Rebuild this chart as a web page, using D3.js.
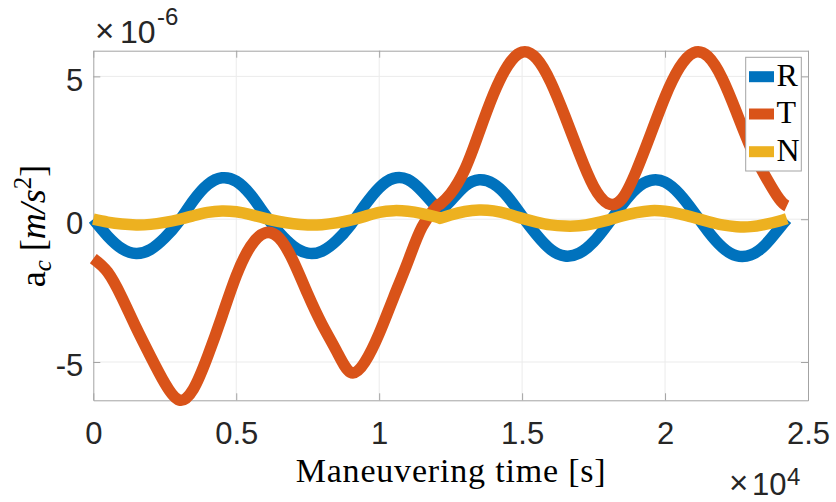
<!DOCTYPE html>
<html>
<head>
<meta charset="utf-8">
<script src="https://cdn.jsdelivr.net/npm/d3@7"></script>
<style>
  body { margin: 0; background: #fff; }
  svg { display: block; }
  .tick text { font-family: "Liberation Sans", Arial, sans-serif; font-size: 31px; fill: #262626; }
  .serif { font-family: "Liberation Serif", "Times New Roman", serif; fill: #000; }
  .sans { font-family: "Liberation Sans", Arial, sans-serif; fill: #262626; }
</style>
</head>
<body>
<div id="chart"></div>
<script>
// maneuvering time [s], split at the mid-point kink (12130 s)
var times = [0, 500, 1000, 1500, 2000, 2500, 3000, 3500, 4000, 4500, 5000, 5500, 6000,
  6500, 7000, 7500, 8000, 8500, 9000, 9500, 10000, 10500, 11000, 11500, 12000, 12130,
  12500, 13000, 13500, 14000, 14500, 15000, 15500, 16000, 16500, 17000, 17500, 18000,
  18500, 19000, 19500, 20000, 20500, 21000, 21500, 22000, 22500, 23000, 23500, 24000, 24260];
var kinkIndex = 25;

// control acceleration components, x1e-6 m/s^2
var radial = [0, -0.59, -1.03, -1.2, -1.06, -0.65, -0.07, 0.65, 1.21, 1.45, 1.33, 0.86, 0.17,
  -0.47, -0.95, -1.19, -1.12, -0.76, -0.2, 0.49, 1.1, 1.43, 1.39, 0.98, 0.42, 0.28,
  0.64, 1.16, 1.38, 1.24, 0.78, 0.11, -0.54, -1.06, -1.29, -1.19, -0.79, -0.17,
  0.51, 1.08, 1.36, 1.3, 0.89, 0.26, -0.42, -0.98, -1.28, -1.25, -0.9, -0.31, 0];
var along = [-1.38, -1.85, -2.74, -3.8, -4.8, -5.74, -6.33, -5.95, -4.8, -3.4, -1.98, -0.95, -0.48,
  -0.66, -1.48, -2.62, -3.68, -4.6, -5.36, -5.0, -4.0, -2.75, -1.5, -0.27, 0.43, 0.52,
  0.9, 1.75, 3.05, 4.38, 5.38, 5.85, 5.63, 4.8, 3.6, 2.3, 1.15, 0.55,
  0.72, 1.7, 2.98, 4.28, 5.3, 5.83, 5.7, 4.93, 3.74, 2.5, 1.52, 0.7, 0.46];
var normal = [0, -0.1, -0.17, -0.2, -0.18, -0.11, -0.01, 0.12, 0.24, 0.29, 0.26, 0.16, 0.03,
  -0.08, -0.16, -0.2, -0.19, -0.13, -0.03, 0.1, 0.24, 0.3, 0.28, 0.2, 0.08, 0.03,
  0.15, 0.27, 0.32, 0.29, 0.18, 0.03, -0.1, -0.2, -0.24, -0.23, -0.15, -0.03,
  0.11, 0.23, 0.3, 0.28, 0.19, 0.06, -0.08, -0.2, -0.26, -0.26, -0.18, -0.06, 0.02];

var seriesNames = ["R", "T", "N"];
var seriesValues = [radial, along, normal];
var seriesColors = ["#0072BD", "#D95319", "#EDB120"];

var xTicks = [0, 5000, 10000, 15000, 20000, 25000];
var xTickLabels = ["0", "0.5", "1", "1.5", "2", "2.5"];
var yTicks = [-5, 0, 5];
var yTickLabels = ["-5", "0", "5"];

drawChart();

function drawChart() {
  var width = 836, height = 502;
  var plotLeft = 93.3, plotRight = 808, plotTop = 50.7, plotBottom = 400.3;
  var axisColor = "#a3a3a3";

  var svg = d3.select("#chart")
    .append("svg")
    .attr("width", width)
    .attr("height", height);

  var x = d3.scaleLinear().domain([0, 25000]).range([plotLeft, plotRight]);
  var y = d3.scaleLinear().domain([-6.34, 5.9]).range([plotBottom, plotTop]);

  // grid
  var grid = svg.append("g").attr("class", "grid");
  grid.selectAll("line.vx")
    .data(xTicks.slice(1, -1))
    .enter().append("line")
    .attr("x1", function(d) { return x(d); })
    .attr("x2", function(d) { return x(d); })
    .attr("y1", plotTop).attr("y2", plotBottom)
    .attr("stroke", "#ebebeb").attr("stroke-width", 1);
  grid.selectAll("line.hy")
    .data(yTicks)
    .enter().append("line")
    .attr("y1", function(d) { return y(d); })
    .attr("y2", function(d) { return y(d); })
    .attr("x1", plotLeft).attr("x2", plotRight)
    .attr("stroke", "#ebebeb").attr("stroke-width", 1);

  // axes (ticks inside, box on)
  function styleAxis(g) {
    g.selectAll("path.domain").attr("stroke", axisColor).attr("stroke-width", 1);
    g.selectAll(".tick line").attr("stroke", axisColor).attr("stroke-width", 1);
  }

  svg.append("g")
    .attr("transform", "translate(0," + plotBottom + ")")
    .call(d3.axisBottom(x).tickValues(xTicks)
      .tickFormat(function(d, i) { return xTickLabels[i]; })
      .tickSize(-7).tickSizeOuter(0).tickPadding(22))
    .call(styleAxis)
    .selectAll(".tick text").attr("font-family", null).attr("font-size", null);

  svg.append("g")
    .attr("transform", "translate(0," + plotTop + ")")
    .call(d3.axisTop(x).tickValues(xTicks).tickFormat("").tickSize(-7).tickSizeOuter(0))
    .call(styleAxis);

  svg.append("g")
    .attr("transform", "translate(" + plotLeft + ",0)")
    .call(d3.axisLeft(y).tickValues(yTicks)
      .tickFormat(function(d, i) { return yTickLabels[i]; })
      .tickSize(-7).tickSizeOuter(0).tickPadding(10))
    .call(styleAxis)
    .selectAll(".tick text").attr("dy", "0.45em").attr("font-family", null).attr("font-size", null);

  svg.append("g")
    .attr("transform", "translate(" + plotRight + ",0)")
    .call(d3.axisRight(y).tickValues(yTicks).tickFormat("").tickSize(-7).tickSizeOuter(0))
    .call(styleAxis);

  // series lines, each half a smooth spline, joined at the kink so the corner stays sharp
  var line = d3.line()
    .x(function(d) { return x(d.t); })
    .y(function(d) { return y(d.v); })
    .curve(d3.curveNatural);

  seriesValues.forEach(function(vals, k) {
    var pts = times.map(function(t, i) { return {t: t, v: vals[i]}; });
    var first = line(pts.slice(0, kinkIndex + 1));
    var second = line(pts.slice(kinkIndex)).replace(/^M[^A-Za-z]*/, "");
    svg.append("path")
      .attr("d", first + second)
      .attr("fill", "none")
      .attr("stroke", seriesColors[k])
      .attr("stroke-width", 11.5)
      .attr("stroke-linejoin", "round")
      .attr("stroke-linecap", "butt");
  });

  // exponent labels
  var topExp = svg.append("g").attr("class", "sans");
  topExp.append("text").attr("x", 95).attr("y", 42).attr("font-size", 33).text("\u00d7");
  topExp.append("text").attr("x", 120).attr("y", 43).attr("font-size", 32).text("10");
  topExp.append("text").attr("x", 157).attr("y", 25).attr("font-size", 24).text("-6");

  var botExp = svg.append("g").attr("class", "sans");
  botExp.append("text").attr("x", 729).attr("y", 494).attr("font-size", 33).text("\u00d7");
  botExp.append("text").attr("x", 752).attr("y", 495).attr("font-size", 31).text("10");
  botExp.append("text").attr("x", 787).attr("y", 485).attr("font-size", 24).text("4");

  // axis labels
  svg.append("text")
    .attr("class", "serif")
    .attr("x", (plotLeft + plotRight) / 2)
    .attr("y", 481.5)
    .attr("text-anchor", "middle")
    .attr("font-size", 34)
    .attr("textLength", 310)
    .text("Maneuvering time [s]");

  var yl = svg.append("text")
    .attr("class", "serif")
    .attr("transform", "translate(45,226) rotate(-90)")
    .attr("text-anchor", "middle")
    .attr("font-size", 36);
  yl.append("tspan").text("a");
  yl.append("tspan").attr("font-style", "italic").attr("font-size", 25).attr("dy", 6).text("c");
  yl.append("tspan").attr("dy", -6).text(" [");
  yl.append("tspan").attr("font-style", "italic").text("m/s");
  yl.append("tspan").attr("font-size", 25).attr("dy", -14).text("2");
  yl.append("tspan").attr("dy", 14).text("]");

  // legend
  var legend = svg.append("g");
  legend.append("rect")
    .attr("x", 745.7).attr("y", 57.3)
    .attr("width", 55.6).attr("height", 113.7)
    .attr("fill", "#fff")
    .attr("stroke", axisColor).attr("stroke-width", 1);
  var rowY = [76.7, 114, 151.7];
  var rows = legend.selectAll("g.row")
    .data(seriesNames)
    .enter().append("g")
    .attr("transform", function(d, i) { return "translate(0," + rowY[i] + ")"; });
  rows.append("line")
    .attr("x1", 749).attr("x2", 774)
    .attr("y1", 0).attr("y2", 0)
    .attr("stroke", function(d, i) { return seriesColors[i]; })
    .attr("stroke-width", 11);
  rows.append("text")
    .attr("class", "serif")
    .attr("x", 776.5).attr("y", 9)
    .attr("font-size", 32)
    .text(function(d) { return d; });
}
</script>
</body>
</html>
